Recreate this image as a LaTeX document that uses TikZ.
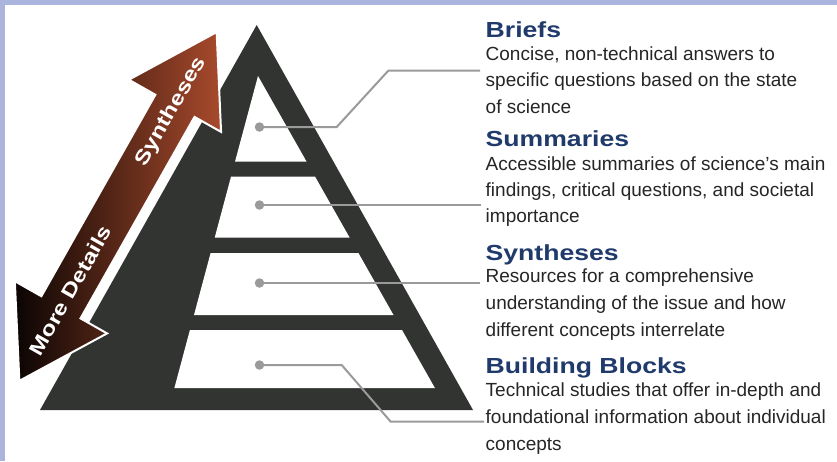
\documentclass[tikz,border=0pt]{standalone}
\usepackage{fontspec}
\setmainfont{Liberation Sans}
\newfontfamily\titlefont[FakeStretch=1.22]{Liberation Sans}
\definecolor{framec}{HTML}{AAB4DC}
\definecolor{pyr}{HTML}{323432}
\definecolor{lineg}{HTML}{9A9A9A}
\definecolor{navy}{HTML}{1F3A6B}
\definecolor{bodyc}{HTML}{262626}
\definecolor{arrdark}{HTML}{0B0504}
\definecolor{arrmid}{HTML}{4E1F0F}
\definecolor{arrlight}{HTML}{A84A2C}
\begin{document}
\begin{tikzpicture}[x=1pt,y=-1pt,
  ttl/.style={font=\titlefont\bfseries\fontsize{21.8}{26}\selectfont, text=navy, inner sep=0, anchor=base west},
  bodyt/.style={font=\fontsize{19}{26}\selectfont, text=bodyc, inner sep=0, anchor=base west},
  dotst/.style={circle, fill=lineg, inner sep=0, minimum size=9.5pt},
  conn/.style={draw=lineg, line width=2pt},
  arrtxt/.style={font=\titlefont\bfseries\fontsize{20}{24}\selectfont, text=white, inner sep=0}
]
\useasboundingbox (0,0) rectangle (837,461);
\fill[white] (0,0) rectangle (837,461);
\fill[framec] (0,0) rectangle (837,5);
\fill[framec] (0,0) rectangle (5,461);

% pyramid
\fill[pyr] (256.7,25) -- (473,410) -- (40,410) -- cycle;
\fill[white] (258,76) -- (306.6,161.7) -- (235,161.7) -- cycle;
\fill[white] (231,176.7) -- (315.1,176.7) -- (349.7,237.7) -- (214.7,237.7) -- cycle;
\fill[white] (210.6,253) -- (358.4,253) -- (393.5,315) -- (194,315) -- cycle;
\fill[white] (189.9,330) -- (402,330) -- (434.9,388) -- (174.4,388) -- cycle;

% double arrow
\begin{scope}[shift={(177.9,100.6)}, rotate=60.5]
  \fill[white] (-237.5,18) rectangle (-6,30);
  \shadedraw[left color=arrdark, middle color=arrmid, right color=arrlight, draw=white, line width=2pt]
    (78.7,0) -- (-6,53) -- (-6,22.5) -- (-237.5,22.5) -- (-237.5,53) -- (-322,0)
    -- (-237.5,-53) -- (-237.5,-22.5) -- (-6,-22.5) -- (-6,-53) -- cycle;
  \node[arrtxt, rotate=60.5] (s1) at (-13,0) {Syntheses};
  \node[arrtxt, rotate=60.5] (s2) at (-218.5,0) {More Details};
\end{scope}

% connectors
\coordinate (c1a) at (336.7,127);
\coordinate (c1b) at (388.3,70.7);
\coordinate (c1e) at (480,70.7);
\coordinate (c2e) at (481,205);
\coordinate (c3e) at (480,283);
\coordinate (c4a) at (341.7,365);
\coordinate (c4b) at (390.7,421.7);
\coordinate (c4e) at (484,421.7);
\node[dotst] (d1) at (259.5,127) {};
\node[dotst] (d2) at (259.5,205) {};
\node[dotst] (d3) at (259.5,283) {};
\node[dotst] (d4) at (259.5,365) {};
\draw[conn] (d1.center) -- (c1a) -- (c1b) -- (c1e);
\draw[conn] (d2.center) -- (c2e);
\draw[conn] (d3.center) -- (c3e);
\draw[conn] (d4.center) -- (c4a) -- (c4b) -- (c4e);

% texts
\node[ttl] (t1) at (485.5,37.3) {Briefs};
\node[bodyt] (b11) at (485.5,60) {Concise, non-technical answers to};
\node[bodyt] (b12) at (485.5,86.7) {specific questions based on the state};
\node[bodyt] (b13) at (485.5,113) {of science};

\node[ttl] (t2) at (485.5,146.7) {Summaries};
\node[bodyt] (b21) at (485.5,170) {Accessible summaries of science’s main};
\node[bodyt] (b22) at (485.5,196.7) {findings, critical questions, and societal};
\node[bodyt] (b23) at (485.5,222.7) {importance};

\node[ttl] (t3) at (485.5,260) {Syntheses};
\node[bodyt] (b31) at (485.5,282) {Resources for a comprehensive};
\node[bodyt] (b32) at (485.5,309.5) {understanding of the issue and how};
\node[bodyt] (b33) at (485.5,336) {different concepts interrelate};

\node[ttl] (t4) at (485.5,373.3) {Building Blocks};
\node[bodyt] (b41) at (485.5,396.7) {Technical studies that offer in-depth and};
\node[bodyt] (b42) at (485.5,423.5) {foundational information about individual};
\node[bodyt] (b43) at (485.5,450) {concepts};
\end{tikzpicture}
\end{document}
